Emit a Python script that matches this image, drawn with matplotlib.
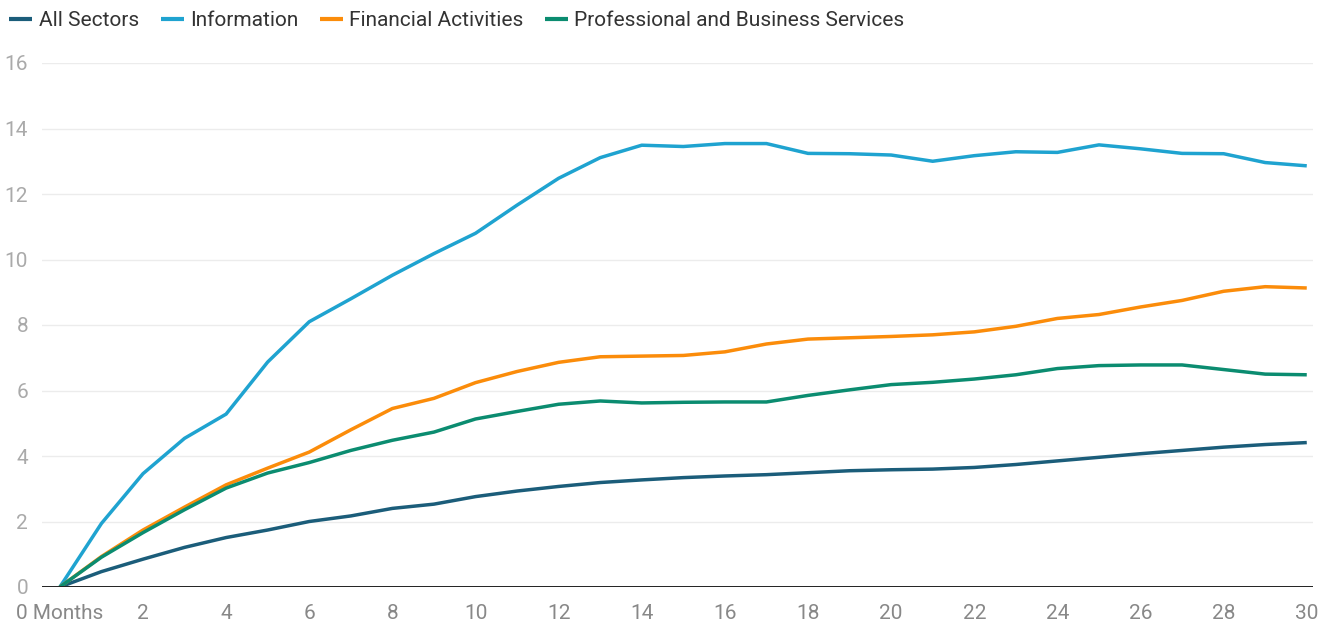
import matplotlib
matplotlib.use('Agg')
import matplotlib.pyplot as plt

plt.rcParams['font.family'] = ['Roboto', 'DejaVu Sans']

# Months since start
months = list(range(31))

# Cumulative change (%) by sector
all_sectors = [0, 0.47, 0.85, 1.21, 1.51, 1.74, 2.00, 2.17, 2.40, 2.53, 2.76,
               2.93, 3.07, 3.19, 3.27, 3.34, 3.39, 3.43, 3.49, 3.55, 3.58,
               3.60, 3.65, 3.74, 3.85, 3.96, 4.07, 4.17, 4.27, 4.35, 4.41]
information = [0, 1.94, 3.46, 4.54, 5.28, 6.87, 8.10, 8.80, 9.52, 10.18, 10.80,
               11.66, 12.48, 13.11, 13.49, 13.45, 13.54, 13.54, 13.24, 13.23, 13.19,
               13.00, 13.17, 13.29, 13.27, 13.50, 13.38, 13.24, 13.23, 12.96, 12.86]
financial = [0, 0.93, 1.74, 2.44, 3.12, 3.63, 4.12, 4.80, 5.45, 5.76, 6.24,
             6.58, 6.86, 7.03, 7.05, 7.07, 7.18, 7.42, 7.57, 7.61, 7.65,
             7.70, 7.79, 7.96, 8.20, 8.32, 8.55, 8.75, 9.03, 9.17, 9.13]
professional = [0, 0.91, 1.66, 2.36, 3.02, 3.48, 3.80, 4.17, 4.48, 4.73, 5.13,
                5.36, 5.58, 5.68, 5.62, 5.64, 5.65, 5.65, 5.85, 6.02, 6.18,
                6.25, 6.35, 6.48, 6.67, 6.76, 6.78, 6.78, 6.64, 6.50, 6.48]

series = [
    ('All Sectors', all_sectors, '#1b5d7a'),
    ('Information', information, '#1fa3d0'),
    ('Financial Activities', financial, '#fb8c0a'),
    ('Professional and Business Services', professional, '#0b8c70'),
]

xticks = list(range(0, 31, 2))
xlabels = ['0 Months'] + [str(m) for m in xticks[1:]]
yticks = list(range(0, 17, 2))

fig = plt.figure(figsize=(13.25, 6.22), dpi=100)
ax = fig.add_axes([42 / 1325, 1 - 587 / 622, (1313 - 42) / 1325, (587 - 63) / 622])

for name, vals, col in series:
    ax.plot(months, vals, color=col, lw=2.5, label=name, solid_capstyle='butt', zorder=3)

ax.set_xlim(-0.43, 30.15)
ax.set_ylim(0, 16)
ax.set_xticks(xticks)
ax.set_xticklabels(xlabels)
ax.set_yticks(yticks)
ax.grid(axis='y', color='#ececec', lw=1)
ax.grid(axis='x', visible=False)
ax.axhline(0, color='#222222', lw=1.4, zorder=4)
for s in ax.spines.values():
    s.set_visible(False)
ax.tick_params(length=0, labelsize=15)
ax.tick_params(axis='x', colors='#888888', pad=12)
ax.tick_params(axis='y', colors='#aaaaaa', pad=10)

leg = fig.legend(loc='upper left', bbox_to_anchor=(-0.007, 1.012), ncol=4, frameon=False,
                 handlelength=1.1, handletextpad=0.3, columnspacing=1.05,
                 fontsize=15)
for t in leg.get_texts():
    t.set_color('#333333')
for h in leg.legend_handles:
    h.set_linewidth(3)

fig.savefig('out.png', dpi=100)
